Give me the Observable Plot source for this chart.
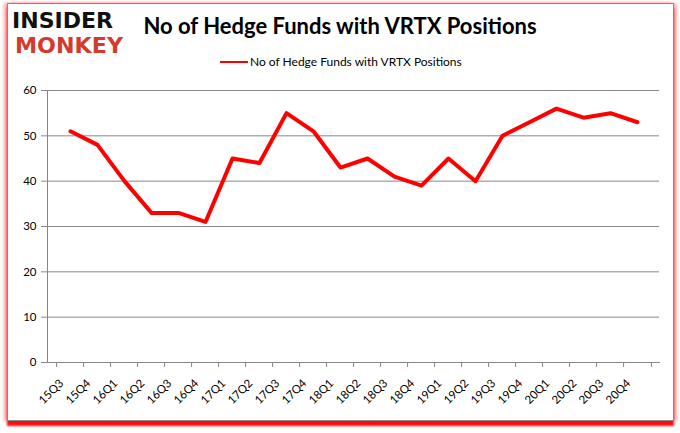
<!DOCTYPE html>
<html><head><meta charset="utf-8">
<script src="https://cdn.jsdelivr.net/npm/d3@7"></script>
<script src="https://cdn.jsdelivr.net/npm/@observablehq/plot@0.6"></script>
<style>
body{margin:0;background:#fff;}
#wrap{position:relative;width:680px;height:433px;overflow:hidden;background:#fff;font-family:Lato,"Open Sans",sans-serif;}
#box{position:absolute;left:7px;top:3px;width:665px;height:416px;border:1px solid #8a8a8a;background:#fff;
 box-shadow:0 5px 2px rgba(255,0,0,0.95),-3px 0 3px rgba(255,0,0,0.35),3px 0 3px rgba(255,0,0,0.3);}
#chart{position:absolute;left:0;top:0;}
#title{position:absolute;left:0;top:12px;width:680px;text-align:center;font-size:22px;font-weight:bold;color:#000;}
#legend{position:absolute;left:220px;top:54px;font-size:12px;color:#000;display:flex;align-items:center;white-space:nowrap;}
#legend .sw{display:inline-block;width:28px;height:2px;background:#ff0000;margin-right:2px;}
#logo{position:absolute;left:0;top:0;}
</style></head>
<body>
<div id="wrap">
 <div id="box"></div>
 <div id="chart"></div>
 <svg id="logo" width="140" height="70">
  <text x="12" y="28" font-family="DejaVu Sans" font-weight="bold" font-size="21" textLength="101" lengthAdjust="spacingAndGlyphs" fill="#111">INSIDER</text>
  <text x="15" y="53" font-family="DejaVu Sans" font-weight="bold" font-size="21" textLength="108" lengthAdjust="spacingAndGlyphs" fill="#d33b2c">MONKEY</text>
 </svg>
 <div id="title">No of Hedge Funds with VRTX Positions</div>
 <div id="legend"><span class="sw"></span><span>No of Hedge Funds with VRTX Positions</span></div>
</div>
<script>
const quarters = ["15Q3","15Q4","16Q1","16Q2","16Q3","16Q4","17Q1","17Q2","17Q3","17Q4","18Q1","18Q2","18Q3","18Q4","19Q1","19Q2","19Q3","19Q4","20Q1","20Q2","20Q3","20Q4"];
const funds = [51,48,40,33,33,31,45,44,55,51,43,45,41,39,45,40,50,53,56,54,55,53];
const yTicks = [0,10,20,30,40,50,60];

const data = quarters.map((q,i)=>({quarter:q, funds:funds[i]}));
const W = 680, H = 433, ML = 47, MR = 21, MT = 90, MB = 71;
const step = (W - ML - MR) / quarters.length;

const chart = Plot.plot({
  width: W, height: H,
  marginLeft: ML, marginRight: MR, marginTop: MT, marginBottom: MB,
  style: {fontFamily: "Lato, 'Open Sans', sans-serif", fontSize: "11.5px", color: "#000", background: "transparent"},
  x: {type: "point", domain: quarters, padding: 0.5, label: null},
  y: {domain: [0, 60], label: null},
  marks: [
    Plot.gridY(yTicks, {stroke: "#868686", strokeOpacity: 1}),
    Plot.frame({anchor: "left", stroke: "#868686"}),
    Plot.frame({anchor: "bottom", stroke: "#868686"}),
    Plot.axisY({ticks: yTicks, tickSize: 6, tickPadding: 5, stroke: "#868686", fill: "#000", label: null}),
    Plot.axisX({ticks: quarters, tickSize: 5, tickFormat: () => "", dx: -step/2, stroke: "#868686", label: null}),
    Plot.axisX({ticks: quarters.slice(-1), tickSize: 5, tickFormat: () => "", dx: step/2, stroke: "#868686", label: null}),
    Plot.axisX({ticks: quarters, tickSize: 0, tickPadding: 9, tickRotate: -45, dx: -9, dy: 10, fill: "#000", label: null}),
    Plot.line(data, {x: "quarter", y: "funds", stroke: "#ff0000", strokeWidth: 4})
  ]
});
document.getElementById("chart").appendChild(chart);
</script>
</body></html>
